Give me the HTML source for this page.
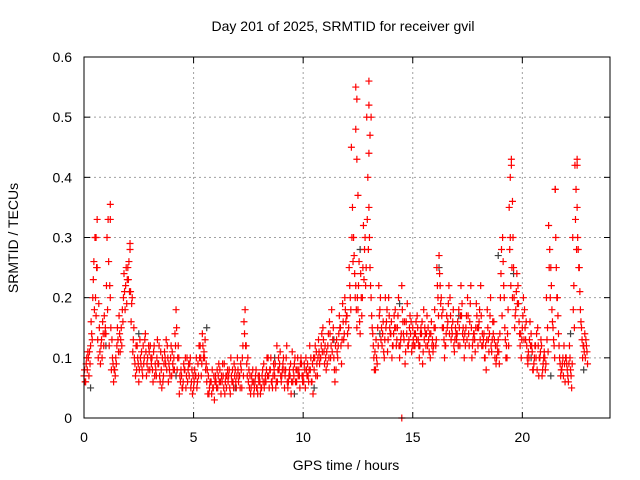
<!DOCTYPE html>
<html><head><meta charset="utf-8"><style>
html,body{margin:0;padding:0;background:#fff}
svg{display:block;font-family:"Liberation Sans",sans-serif}
</style></head><body>
<svg id="chart" width="640" height="480">
<text x="343" y="31" font-size="14" text-anchor="middle">Day 201 of 2025, SRMTID for receiver gvil</text>
<text x="346" y="470" font-size="14" text-anchor="middle">GPS time / hours</text>
<text transform="translate(18,238) rotate(-90)" font-size="14" text-anchor="middle">SRMTID / TECUs</text>
<g id="grid"></g><g id="ticks"></g><g id="marks"></g>
<rect x="84" y="57" width="526" height="361" fill="none" stroke="#000" stroke-width="1"/>
</svg>
<script>
const xTicks=[0,5,10,15,20];
const yTicks=[0,0.1,0.2,0.3,0.4,0.5,0.6];
const yTickLabels=["0","0.1","0.2","0.3","0.4","0.5","0.6"];
const seriesA=[0.07,0.09,0.1,0.12,0.2,0.3,0.25,0.15,0.13,0.12,
0.14,0.33,0.2,0.1,0.08,0.12,0.17,0.15,0.2,0.22,
0.25,0.28,0.2,0.1,0.08,0.06,0.09,0.12,0.14,0.1,
0.08,0.1,0.12,0.07,0.09,0.11,0.06,0.1,0.12,0.08,
0.07,0.1,0.18,0.12,0.06,0.05,0.08,0.1,0.07,0.06,
0.05,0.07,0.09,0.12,0.14,0.1,0.06,0.04,0.06,0.05,
0.07,0.05,0.08,0.06,0.09,0.05,0.07,0.1,0.06,0.08,
0.1,0.07,0.05,0.16,0.12,0.06,0.04,0.08,0.06,0.05,
0.07,0.05,0.09,0.06,0.1,0.08,0.05,0.07,0.12,0.08,
0.06,0.1,0.08,0.05,0.07,0.11,0.09,0.06,0.08,0.1,
0.07,0.05,0.09,0.12,0.06,0.08,0.11,0.13,0.1,0.15,
0.12,0.09,0.16,0.18,0.1,0.08,0.12,0.15,0.19,0.2,
0.17,0.25,0.45,0.3,0.22,0.18,0.14,0.2,0.28,0.5,
0.35,0.2,0.12,0.08,0.15,0.18,0.12,0.1,0.16,0.2,
0.14,0.12,0.18,0.15,0.1,0.22,0.13,0.16,0.12,0.14,
0.15,0.12,0.17,0.1,0.14,0.18,0.12,0.15,0.1,0.13,
0.18,0.25,0.27,0.2,0.15,0.12,0.16,0.2,0.14,0.11,
0.13,0.18,0.22,0.15,0.12,0.2,0.16,0.1,0.14,0.19,
0.15,0.22,0.12,0.1,0.18,0.14,0.11,0.16,0.09,0.13,
0.2,0.3,0.15,0.1,0.35,0.42,0.25,0.18,0.22,0.12,
0.15,0.18,0.12,0.1,0.14,0.08,0.12,0.15,0.1,0.07,
0.11,0.2,0.32,0.25,0.15,0.38,0.2,0.1,0.08,0.12,
0.1,0.06,0.08,0.3,0.42,0.35,0.25,0.15,0.12,0.13];
const seriesB=[0.06,0.08,0.11,0.14,0.26,0.17,0.1,0.09,0.16,0.14,
0.3,0.12,0.08,0.06,0.1,0.13,0.11,0.18,0.21,0.19,
0.26,0.16,0.13,0.07,0.1,0.13,0.08,0.1,0.07,0.12,
0.1,0.06,0.09,0.13,0.07,0.05,0.09,0.13,0.06,0.1,
0.09,0.14,0.08,0.04,0.07,0.09,0.05,0.08,0.1,0.04,
0.08,0.05,0.12,0.07,0.1,0.08,0.04,0.06,0.08,0.03,
0.05,0.09,0.04,0.07,0.06,0.08,0.05,0.06,0.09,0.05,
0.06,0.09,0.12,0.18,0.07,0.05,0.07,0.04,0.08,0.07,
0.04,0.08,0.06,0.1,0.05,0.06,0.09,0.05,0.08,0.11,
0.08,0.05,0.12,0.07,0.04,0.08,0.06,0.1,0.05,0.07,
0.09,0.08,0.06,0.1,0.04,0.12,0.07,0.09,0.14,0.11,
0.08,0.14,0.1,0.13,0.06,0.11,0.17,0.09,0.13,0.16,
0.12,0.2,0.35,0.24,0.15,0.26,0.2,0.32,0.22,0.4,
0.25,0.15,0.08,0.1,0.22,0.13,0.16,0.2,0.11,0.15,
0.1,0.17,0.12,0.2,0.13,0.16,0.09,0.19,0.15,0.11,
0.12,0.16,0.13,0.14,0.09,0.15,0.17,0.11,0.16,0.12,
0.12,0.2,0.22,0.15,0.1,0.17,0.22,0.13,0.18,0.15,
0.16,0.12,0.19,0.1,0.17,0.14,0.22,0.13,0.11,0.15,
0.18,0.12,0.14,0.08,0.13,0.2,0.16,0.1,0.12,0.09,
0.28,0.22,0.1,0.18,0.3,0.2,0.15,0.24,0.16,0.1,
0.2,0.13,0.09,0.16,0.11,0.1,0.14,0.07,0.13,0.09,
0.08,0.15,0.28,0.18,0.12,0.25,0.14,0.07,0.1,0.06,
0.08,0.12,0.05,0.22,0.38,0.28,0.18,0.1,0.14,0.11];
const seriesC=[0.08,0.1,0.07,0.16,0.23,0.2,0.13,0.11,0.1,0.17,
0.22,0.26,0.15,0.09,0.07,0.15,0.14,0.12,0.24,0.25,
0.23,0.21,0.11,0.09,0.12,0.08,0.11,0.09,0.11,0.08,
0.12,0.08,0.07,0.1,0.12,0.08,0.07,0.09,0.1,0.07,
0.11,0.08,0.15,0.1,0.08,0.06,0.1,0.06,0.09,0.08,
0.06,0.1,0.07,0.1,0.12,0.13,0.08,0.05,0.04,0.07,
0.06,0.07,0.06,0.09,0.04,0.07,0.08,0.07,0.05,0.06,
0.08,0.05,0.1,0.14,0.09,0.08,0.05,0.06,0.07,0.04,
0.06,0.07,0.05,0.08,0.07,0.1,0.07,0.09,0.06,0.09,
0.07,0.08,0.1,0.06,0.09,0.06,0.1,0.08,0.07,0.09,
0.06,0.1,0.07,0.08,0.09,0.1,0.09,0.11,0.12,0.13,
0.1,0.12,0.14,0.11,0.08,0.13,0.14,0.12,0.16,0.18,
0.14,0.22,0.3,0.27,0.18,0.22,0.24,0.25,0.3,0.33,
0.3,0.17,0.1,0.13,0.12,0.2,0.14,0.13,0.18,0.17,
0.16,0.14,0.15,0.17,0.12,0.18,0.16,0.14,0.13,0.16,
0.13,0.14,0.15,0.12,0.16,0.13,0.14,0.13,0.14,0.11,
0.15,0.22,0.24,0.17,0.13,0.14,0.19,0.17,0.16,0.13,
0.14,0.15,0.17,0.13,0.15,0.17,0.19,0.12,0.13,0.17,
0.16,0.17,0.13,0.12,0.15,0.17,0.13,0.13,0.1,0.11,
0.24,0.26,0.13,0.14,0.28,0.25,0.2,0.21,0.19,0.14,
0.17,0.15,0.1,0.13,0.12,0.09,0.1,0.12,0.11,0.08,
0.1,0.13,0.25,0.22,0.13,0.3,0.17,0.09,0.09,0.09,
0.09,0.09,0.07,0.18,0.33,0.3,0.21,0.13,0.11,0.12];
const seriesD=[0.06,0.11,0.09,0.13,0.18,0.25,0.19,0.12,0.14,0.15,
0.18,0.22,0.13,0.08,0.09,0.11,0.13,0.16,0.18,0.23,
0.21,0.19,0.15,0.12,0.09,0.1,0.07,0.13,0.09,0.11,
0.09,0.11,0.08,0.09,0.06,0.1,0.11,0.08,0.09,0.12,
0.08,0.12,0.1,0.07,0.05,0.08,0.07,0.09,0.05,0.07,
0.07,0.06,0.1,0.09,0.11,0.09,0.07,0.06,0.05,0.06,
0.08,0.06,0.07,0.05,0.07,0.06,0.04,0.08,0.07,0.07,
0.07,0.08,0.07,0.12,0.1,0.07,0.06,0.05,0.05,0.06,
0.05,0.06,0.07,0.07,0.08,0.06,0.08,0.06,0.1,0.07,
0.09,0.07,0.06,0.08,0.06,0.07,0.08,0.07,0.09,0.06,
0.08,0.07,0.08,0.06,0.1,0.07,0.1,0.1,0.11,0.09,
0.11,0.1,0.12,0.15,0.12,0.1,0.15,0.13,0.14,0.17,
0.15,0.18,0.26,0.2,0.2,0.16,0.17,0.23,0.25,0.28,
0.22,0.14,0.11,0.09,0.17,0.15,0.11,0.15,0.13,0.14,
0.12,0.15,0.13,0.12,0.14,0.14,0.11,0.12,0.17,0.12,
0.14,0.13,0.12,0.15,0.11,0.14,0.12,0.14,0.12,0.15,
0.13,0.17,0.19,0.18,0.12,0.15,0.14,0.15,0.12,0.14,
0.12,0.17,0.14,0.14,0.13,0.12,0.15,0.14,0.15,0.12,
0.13,0.14,0.1,0.13,0.11,0.12,0.14,0.12,0.11,0.14,
0.17,0.2,0.12,0.12,0.22,0.3,0.17,0.19,0.14,0.13,
0.13,0.16,0.11,0.12,0.08,0.12,0.08,0.1,0.12,0.1,
0.09,0.11,0.2,0.16,0.1,0.2,0.12,0.08,0.07,0.1,
0.07,0.1,0.09,0.15,0.28,0.25,0.16,0.12,0.1,0.09];
const spikeTimes=[12.4,12.45,12.4,12.45,13.0,13.0,13.05,13.0,1.2,0.6,1.2,19.5,19.45,21.5,22.5,22.5,14.5,13.1,0.55,2.1,12.5,19.55];
const spikeValues=[0.55,0.53,0.48,0.43,0.56,0.52,0.47,0.44,0.355,0.33,0.33,0.43,0.4,0.38,0.43,0.42,0.0,0.5,0.3,0.29,0.37,0.36];
const greyTimes=[0.3,1.0,2.5,3.4,4.2,5.6,6.9,7.8,8.7,9.6,10.5,11.4,12.6,13.5,14.4,15.3,16.2,17.1,18.0,18.9,19.6,20.4,21.3,22.2,22.8];
const greyValues=[0.05,0.12,0.14,0.09,0.07,0.15,0.05,0.06,0.1,0.04,0.05,0.13,0.28,0.14,0.19,0.12,0.25,0.17,0.15,0.27,0.24,0.1,0.07,0.14,0.08];
const NS="http://www.w3.org/2000/svg";
function X(t){return 84+t*(526/24);}
function Y(v){return 418-v*(361/0.6);}
const grid=document.getElementById('grid'),ticks=document.getElementById('ticks'),marks=document.getElementById('marks');
function mk(tag,attrs,parent){const e=document.createElementNS(NS,tag);for(const k in attrs)e.setAttribute(k,attrs[k]);parent.appendChild(e);return e;}
xTicks.forEach(t=>{
 if(t>0){const g=mk('line',{x1:X(t),x2:X(t),y1:57,y2:418,stroke:'#a0a0a0','stroke-dasharray':'2,3'},grid);
 
 }
 mk('line',{x1:X(t),x2:X(t),y1:418,y2:412,stroke:'#000'},ticks);
 mk('line',{x1:X(t),x2:X(t),y1:57,y2:63,stroke:'#000'},ticks);
 const l=mk('text',{x:X(t),y:442,'font-size':14,'text-anchor':'middle'},ticks);l.textContent=t;
 
 
});
yTicks.forEach((v,i)=>{
 if(v>0&&v<0.6){const g=mk('line',{x1:84,x2:610,y1:Y(v),y2:Y(v),stroke:'#a0a0a0','stroke-dasharray':'2,3'},grid);
 
 }
 mk('line',{x1:84,x2:90,y1:Y(v),y2:Y(v),stroke:'#000'},ticks);
 mk('line',{x1:604,x2:610,y1:Y(v),y2:Y(v),stroke:'#000'},ticks);
 const l=mk('text',{x:72,y:Y(v)+5,'font-size':14,'text-anchor':'end'},ticks);l.textContent=yTickLabels[i];
 
 
});
function plus(t,v,col,name){
 const x=X(t),y=Y(v);
 const p=mk('path',{d:`M${x-3.5},${y}h7M${x},${y-3.5}v7`,stroke:col,'stroke-width':1.2,fill:'none'},marks);
 
 
}
greyTimes.forEach((t,i)=>plus(t,greyValues[i],'#404040','grey-point'));
seriesA.forEach((v,i)=>plus(i*0.1,v,'#ff0000','srmtid-point'));
seriesB.forEach((v,i)=>plus(i*0.1+0.05,v,'#ff0000','srmtid-point'));
seriesC.forEach((v,i)=>plus(i*0.1+0.025,v,'#ff0000','srmtid-point'));
seriesD.forEach((v,i)=>plus(i*0.1+0.075,v,'#ff0000','srmtid-point'));
spikeTimes.forEach((t,i)=>plus(t,spikeValues[i],'#ff0000','srmtid-spike'));
</script>
</body></html>
